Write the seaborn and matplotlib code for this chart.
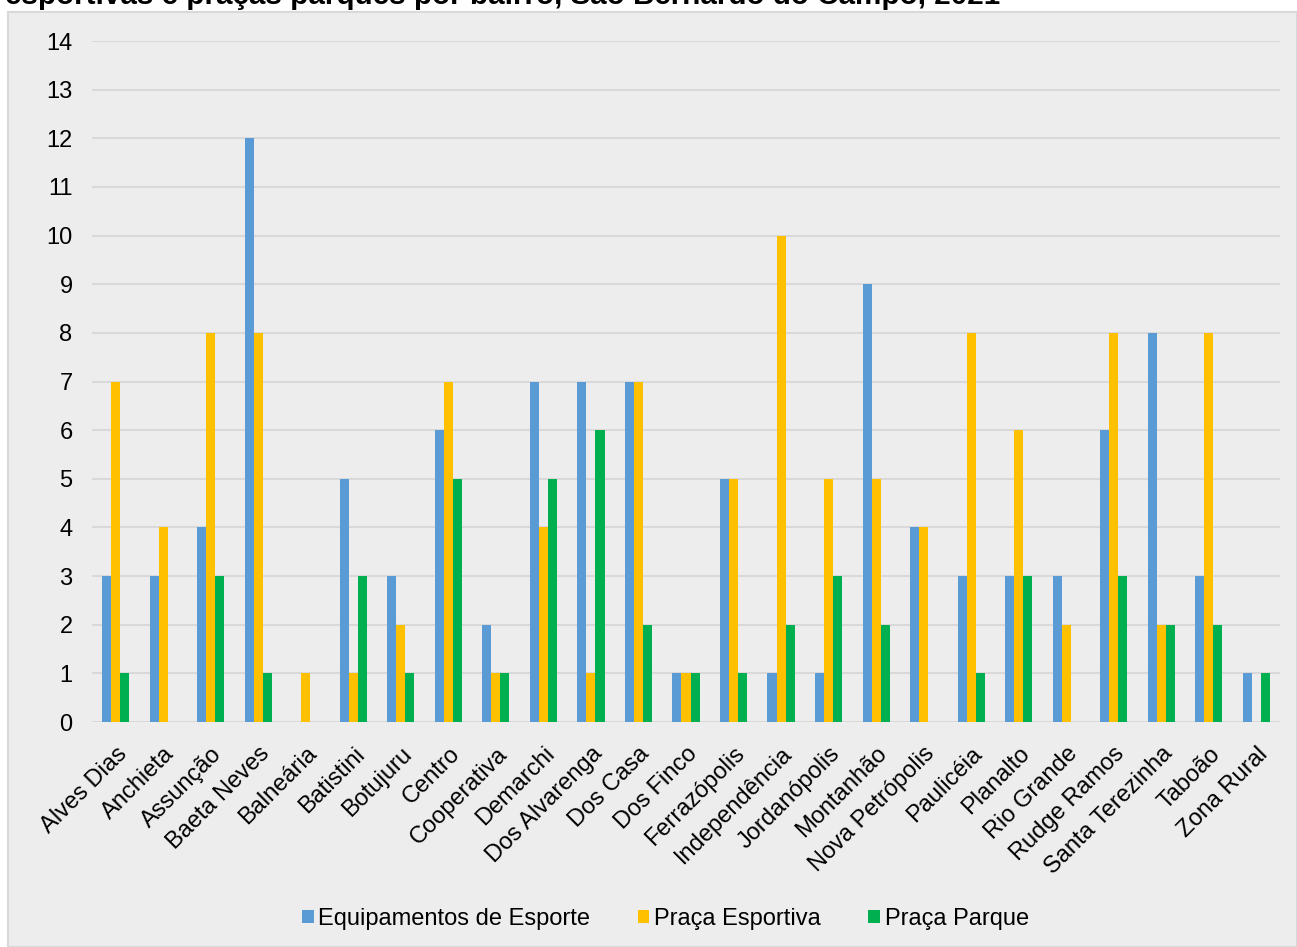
import pandas as pd
import seaborn as sns
import matplotlib.pyplot as plt
from matplotlib.patches import Rectangle, Patch

# Data
bairros = ["Alves Dias", "Anchieta", "Assunção", "Baeta Neves", "Balneária", "Batistini",
           "Botujuru", "Centro", "Cooperativa", "Demarchi", "Dos Alvarenga", "Dos Casa",
           "Dos Finco", "Ferrazópolis", "Independência", "Jordanópolis", "Montanhão",
           "Nova Petrópolis", "Paulicéia", "Planalto", "Rio Grande", "Rudge Ramos",
           "Santa Terezinha", "Taboão", "Zona Rural"]
equipamentos = [3, 3, 4, 12, 0, 5, 3, 6, 2, 7, 7, 7, 1, 5, 1, 1, 9, 4, 3, 3, 3, 6, 8, 3, 1]
praca_esportiva = [7, 4, 8, 8, 1, 1, 2, 7, 1, 4, 1, 7, 1, 5, 10, 5, 5, 4, 8, 6, 2, 8, 2, 8, 0]
praca_parque = [1, 0, 3, 1, 0, 3, 1, 5, 1, 5, 6, 2, 1, 1, 2, 3, 2, 0, 1, 3, 0, 3, 2, 2, 1]

series = ["Equipamentos de Esporte", "Praça Esportiva", "Praça Parque"]
colors = ["#5B9BD5", "#FFC000", "#00B050"]

df = pd.DataFrame({
    "bairro": bairros * 3,
    "valor": equipamentos + praca_esportiva + praca_parque,
    "serie": [s for s in series for _ in bairros],
})

plt.rcParams["font.family"] = ["Liberation Sans", "DejaVu Sans"]

fig = plt.figure(figsize=(12.97, 9.47), dpi=100)
fig.patch.set_facecolor("white")
# gray chart panel behind everything
fig.patches.append(Rectangle((8 / 1297, 0), 1 - 8 / 1297, 1 - 12 / 947,
                             transform=fig.transFigure, facecolor="#EDEDED",
                             edgecolor="#D9D9D9", linewidth=1.5, zorder=-10))

ax = fig.add_axes([92 / 1297, 1 - 722 / 947, (1280 - 92) / 1297, (722 - 41) / 947])
ax.set_facecolor("none")

sns.barplot(data=df, x="bairro", y="valor", hue="serie", palette=colors,
            width=0.57, gap=0, saturation=1, ax=ax, legend=False, zorder=3)

ax.set_ylim(0, 14)
ax.set_yticks(range(0, 15))
ax.set_xlim(-0.5, len(bairros) - 0.5)
ax.yaxis.grid(True, color="#D9D9D9", linewidth=1.5, zorder=0)
ax.set_axisbelow(True)
for s in ax.spines.values():
    s.set_visible(False)
ax.tick_params(axis="both", length=0, labelsize=17, colors="black")
ax.tick_params(axis="y", pad=14)
ax.set_xticks(range(len(bairros)))
ax.set_xticklabels(bairros, rotation=45, ha="right", rotation_mode="anchor")
ax.tick_params(axis="x", pad=15)
ax.set_xlabel("")
ax.set_ylabel("")

handles = [Patch(facecolor=c, label=s) for c, s in zip(colors, series)]
fig.legend(handles=handles, loc="center", bbox_to_anchor=(0.513, 1 - 919 / 947),
           ncol=3, frameon=False, fontsize=17, handlelength=0.5, handleheight=0.5,
           handletextpad=0.2, columnspacing=2.0)

fig.text(5 / 1297, 1 - 4 / 947,
         "esportivas e praças parques por bairro, São Bernardo do Campo, 2021",
         fontsize=21.3, fontweight="bold", ha="left", va="baseline")

fig.savefig("out.png", dpi=100)
